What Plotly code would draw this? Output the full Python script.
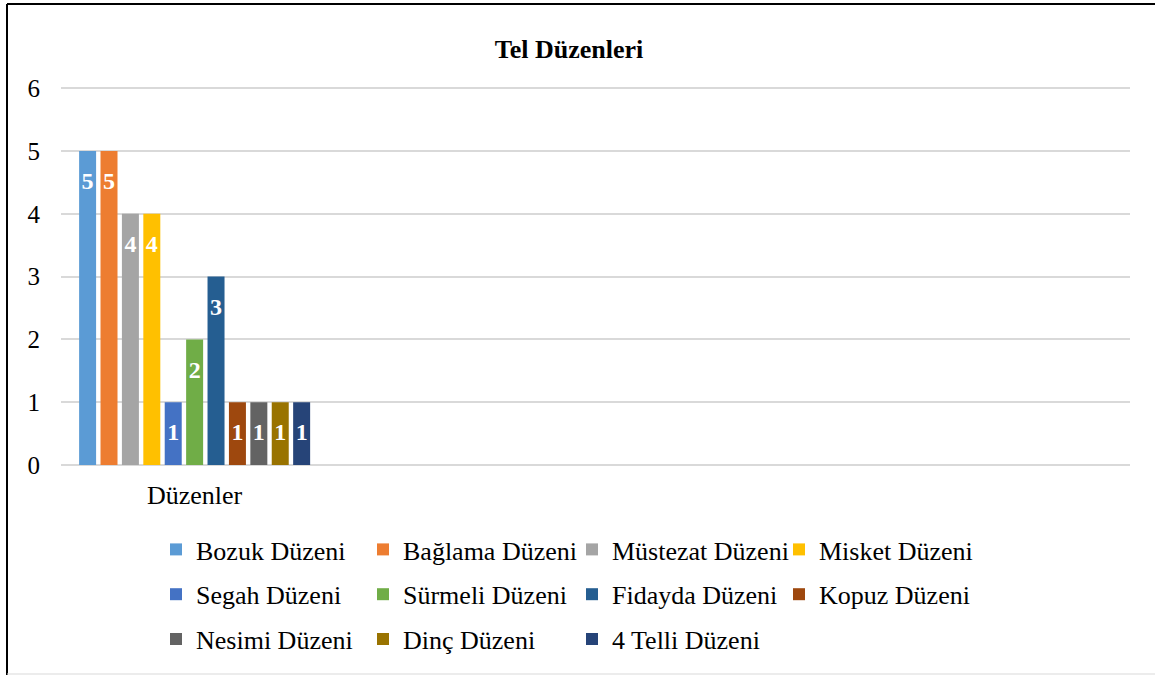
import plotly.graph_objects as go

W, H = 1155, 675
Y_MAX = 6.05          # a hair above the top tick so the "6" gridline is drawn
UNIT_PX = 377 / 6     # pixels per y unit in the reference
MB = 210
ML, MR = 61, 25
MT = round(H - MB - UNIT_PX * Y_MAX)

categories = ["Düzenler", " ", "  ", "   "]
series_names = ["Bozuk Düzeni", "Bağlama Düzeni", "Müstezat Düzeni", "Misket Düzeni",
                "Segah Düzeni", "Sürmeli Düzeni", "Fidayda Düzeni", "Kopuz Düzeni",
                "Nesimi Düzeni", "Dinç Düzeni", "4 Telli Düzeni"]
series_values = [5, 5, 4, 4, 1, 2, 3, 1, 1, 1, 1]
series_colors = ["#5B9BD5", "#ED7D31", "#A5A5A5", "#FFC000", "#4472C4", "#70AD47",
                 "#255E91", "#9E480E", "#636363", "#997300", "#264478"]
y_ticks = [0, 1, 2, 3, 4, 5, 6]

FONT = "Liberation Serif"
PW = W - ML - MR
PH = H - MT - MB

# legend layout: 4 columns (pixel x of each column's legend box), top of legend block
LEG_COL_X = [156, 363, 572, 779]
LEG_TOP = 526
LEG_KEYS = ["legend", "legend2", "legend3", "legend4"]


def px_x(px):
    return (px - ML) / PW


def px_y(py):
    return (H - MB - py) / PH


fig = go.Figure()
for i, (name, val, col) in enumerate(zip(series_names, series_values, series_colors)):
    fig.add_trace(go.Bar(
        x=[categories[0]], y=[val],
        name=name, legendgroup=name,
        legend=LEG_KEYS[i % 4],
        marker=dict(color=col, line=dict(width=0)),
        text=[f"<span style='font-size:4px'>\u00a0</span><br>{val}"],
        textposition="inside", insidetextanchor="end",
        constraintext="none", textangle=0,
        textfont=dict(family=FONT, size=24, color="white", weight="bold"),
        hoverinfo="skip",
    ))

legend_common = dict(orientation="v", xanchor="left", xref="container",
                     y=1 - LEG_TOP / H, yanchor="top", yref="container",
                     font=dict(family=FONT, size=26, color="black"),
                     traceorder="grouped", tracegroupgap=8,
                     bgcolor="rgba(0,0,0,0)", borderwidth=0)
legends = {k: dict(legend_common, x=LEG_COL_X[j] / W) for j, k in enumerate(LEG_KEYS)}

fig.update_layout(
    width=W, height=H,
    margin=dict(l=ML, r=MR, t=MT, b=MB, pad=0, autoexpand=False),
    paper_bgcolor="white", plot_bgcolor="white",
    barmode="group", bargap=0.119, bargroupgap=0.206,
    title=dict(text="<b>Tel Düzenleri</b>", font=dict(family=FONT, size=26, color="black"),
               x=569 / W, xref="container", xanchor="center",
               y=1 - 49 / H, yref="container", yanchor="middle"),
    xaxis=dict(type="category", categoryorder="array", categoryarray=categories,
               range=[-0.5, len(categories) - 0.5], showgrid=False, showline=False,
               zeroline=False, ticks="", tickfont=dict(family=FONT, size=26, color="black"),
               ticklabelstandoff=12),
    yaxis=dict(range=[0, Y_MAX], tickvals=y_ticks, showgrid=True, gridcolor="#D9D9D9",
               gridwidth=1.5, zeroline=True, zerolinecolor="#D9D9D9", zerolinewidth=1.5,
               showline=False, ticks="", tickfont=dict(family=FONT, size=25, color="black"),
               ticklabelstandoff=20),
    showlegend=True,
    shapes=[
        dict(type="line", xref="paper", yref="paper", x0=px_x(7), x1=px_x(7),
             y0=px_y(4), y1=px_y(H), line=dict(color="black", width=2)),
        dict(type="line", xref="paper", yref="paper", x0=px_x(7), x1=px_x(W),
             y0=px_y(4), y1=px_y(4), line=dict(color="black", width=2)),
        dict(type="line", xref="paper", yref="paper", x0=px_x(7), x1=px_x(W),
             y0=px_y(674), y1=px_y(674), line=dict(color="#D9D9D9", width=1)),
    ],
    **legends,
)

fig.write_html("out.html", config={"displayModeBar": False},
               post_script="document.body.style.margin='0';document.body.style.overflow='hidden';")
